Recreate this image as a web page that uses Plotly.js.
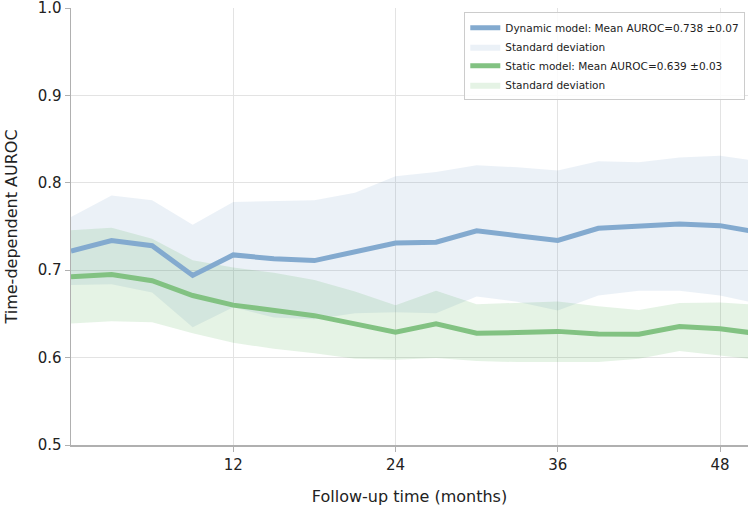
<!DOCTYPE html>
<html>
<head>
<meta charset="utf-8">
<script src="https://cdn.plot.ly/plotly-3.0.1.min.js"></script>
<style>html,body{margin:0;padding:0;background:#fff;}#chart{width:748px;height:506px;}</style>
</head>
<body>
<div id="chart"></div>
<script>
const months = [0, 3, 6, 9, 12, 15, 18, 21, 24, 27, 30, 33, 36, 39, 42, 45, 48, 51];
const dynamicMean = [0.722, 0.734, 0.728, 0.694, 0.7175, 0.713, 0.711, 0.721, 0.731, 0.732, 0.745, 0.7395, 0.734, 0.748, 0.7505, 0.753, 0.751, 0.743];
const dynamicUpper = [0.761, 0.7855, 0.780, 0.752, 0.778, 0.779, 0.780, 0.7885, 0.8075, 0.8125, 0.820, 0.8178, 0.814, 0.8246, 0.8235, 0.829, 0.831, 0.8245];
const dynamicLower = [0.683, 0.684, 0.6746, 0.6347, 0.6575, 0.646, 0.644, 0.6507, 0.652, 0.6507, 0.670, 0.664, 0.6538, 0.671, 0.6765, 0.6765, 0.671, 0.661];
const staticMean = [0.6925, 0.695, 0.688, 0.671, 0.660, 0.6538, 0.648, 0.6386, 0.629, 0.6386, 0.628, 0.6287, 0.630, 0.627, 0.6268, 0.6355, 0.633, 0.627];
const staticUpper = [0.7457, 0.7486, 0.736, 0.7115, 0.703, 0.697, 0.6887, 0.6755, 0.660, 0.6765, 0.661, 0.663, 0.6643, 0.6587, 0.6545, 0.6625, 0.663, 0.660];
const staticLower = [0.639, 0.6416, 0.6405, 0.628, 0.617, 0.610, 0.605, 0.5987, 0.5976, 0.5995, 0.596, 0.5949, 0.5949, 0.5949, 0.5987, 0.6075, 0.6025, 0.597];
const xTicks = [12, 24, 36, 48];
const yTicks = [0.5, 0.6, 0.7, 0.8, 0.9, 1.0];
const names = ["Dynamic model: Mean AUROC=0.738 \u00b10.07", "Standard deviation", "Static model: Mean AUROC=0.639 \u00b10.03", "Standard deviation"];

const blueLine = "rgb(131,170,207)";
const greenLine = "rgb(130,194,130)";
const blueFill = "rgba(70,130,180,0.11)";
const greenFill = "rgba(44,160,44,0.12)";

const traces = [
  {x: months, y: dynamicLower, mode: "lines", line: {width: 0, color: blueFill}, showlegend: false, hoverinfo: "skip"},
  {x: months, y: dynamicUpper, mode: "lines", line: {width: 0, color: blueFill}, fill: "tonexty", fillcolor: blueFill, name: names[1], legendrank: 2},
  {x: months, y: staticLower, mode: "lines", line: {width: 0, color: greenFill}, showlegend: false, hoverinfo: "skip"},
  {x: months, y: staticUpper, mode: "lines", line: {width: 0, color: greenFill}, fill: "tonexty", fillcolor: greenFill, name: names[3], legendrank: 4},
  {x: months, y: dynamicMean, mode: "lines", line: {width: 5, color: blueLine}, name: names[0], legendrank: 1},
  {x: months, y: staticMean, mode: "lines", line: {width: 5, color: greenLine}, name: names[2], legendrank: 3}
];

const layout = {
  width: 748, height: 506,
  margin: {l: 71, r: 0, t: 8, b: 61},
  paper_bgcolor: "#fff", plot_bgcolor: "#fff",
  font: {family: "DejaVu Sans", size: 15, color: "#222"},
  xaxis: {
    range: [0, 50.07], tickvals: xTicks, ticktext: xTicks.map(String),
    showgrid: true, gridcolor: "#e3e3e3", gridwidth: 1,
    zeroline: false, showline: true, linecolor: "#b0b0b0", linewidth: 1.5,
    ticks: "outside", ticklen: 5, tickcolor: "#b0b0b0",
    tickfont: {size: 15}, automargin: false,
    title: {text: "Follow-up time (months)", font: {size: 16}, standoff: 18}
  },
  yaxis: {
    range: [0.5, 1.0], tickvals: yTicks, ticktext: yTicks.map(v => v.toFixed(1)),
    showgrid: true, gridcolor: "#e3e3e3", gridwidth: 1,
    zeroline: false, showline: true, linecolor: "#b0b0b0", linewidth: 1.5,
    ticks: "outside", ticklen: 5, tickcolor: "#b0b0b0",
    tickfont: {size: 15}, automargin: false, ticklabeloverflow: "allow",
    title: {text: "Time-dependent AUROC", font: {size: 16}, standoff: 16}
  },
  legend: {
    x: 0.996, xanchor: "right", y: 0.99, yanchor: "top",
    bgcolor: "rgba(255,255,255,0.85)", bordercolor: "#cccccc", borderwidth: 1,
    font: {size: 10.5, color: "#222"}, tracegroupgap: 0, itemwidth: 30,
    traceorder: "normal"
  },
  showlegend: true
};

Plotly.newPlot("chart", traces, layout, {displayModeBar: false, staticPlot: true});
</script>
</body>
</html>
